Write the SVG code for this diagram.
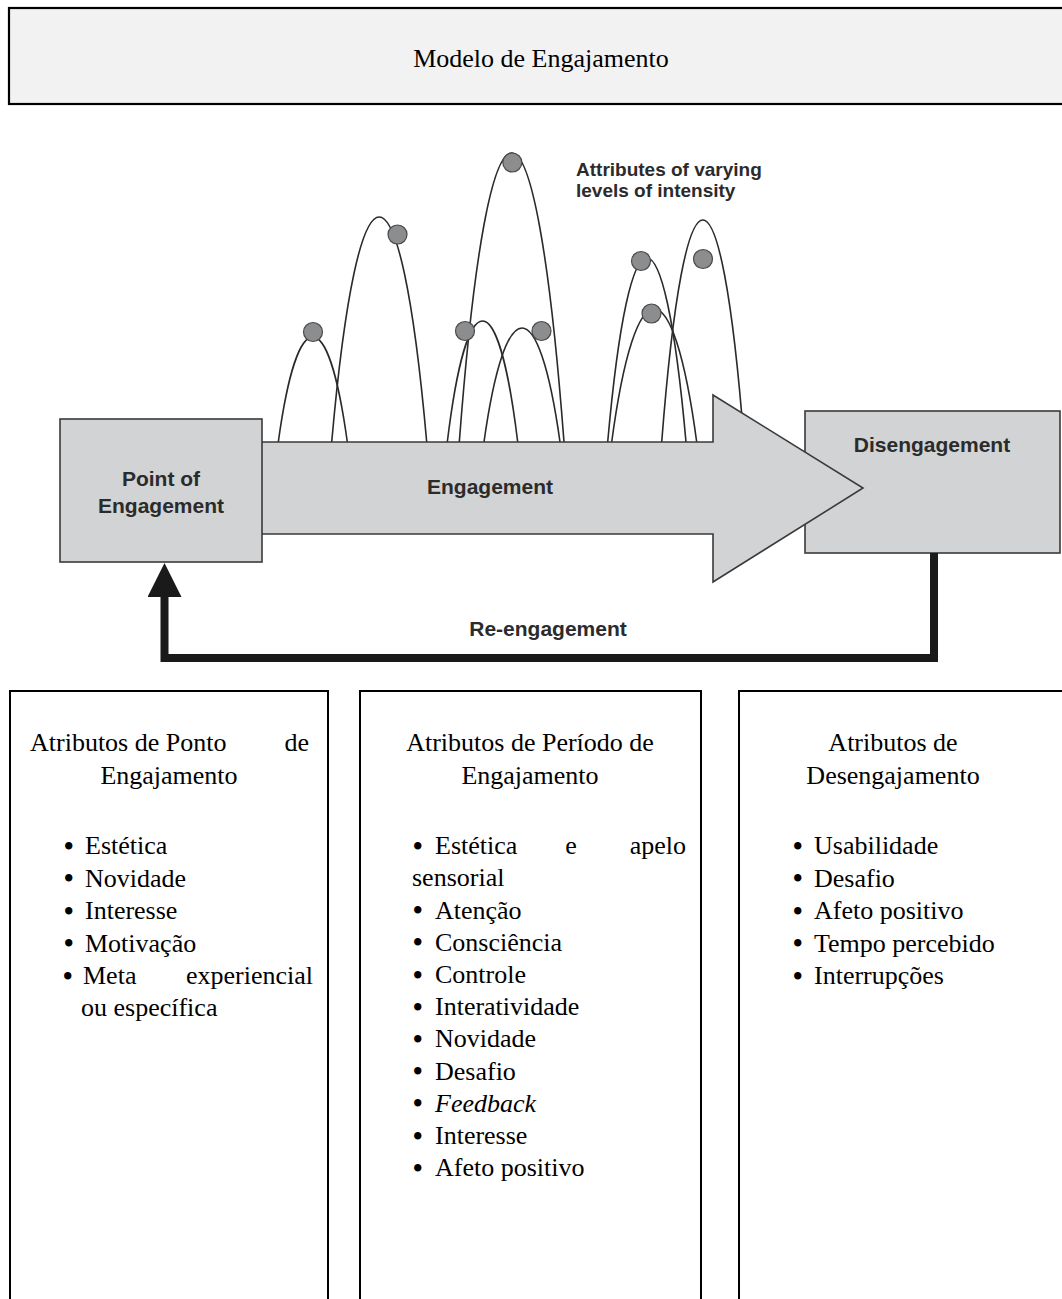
<svg xmlns="http://www.w3.org/2000/svg" width="1062" height="1299" viewBox="0 0 1062 1299">
<defs>
<style>
.serif{font-family:"Liberation Serif","Times New Roman",serif;font-size:26px;fill:#000}
.b{font-size:27px;font-weight:bold}
.sans{font-family:"Liberation Sans",Arial,sans-serif;font-weight:bold;fill:#2b2b2b}
.box{fill:#fff;stroke:#000;stroke-width:2}
.node{fill:#d1d3d4;stroke:#3a3a3a;stroke-width:1.6}
.arc{fill:none;stroke:#2a2a2a;stroke-width:1.6}
.dot{fill:#8c8d8f;stroke:#4a4a4a;stroke-width:1.2}
.conn{fill:none;stroke:#1a1a1a;stroke-width:8;stroke-linejoin:miter}
</style>
<marker id="head" viewBox="0 0 34 34" refX="0" refY="17" markerWidth="34" markerHeight="34" markerUnits="userSpaceOnUse" orient="auto">
<path d="M0,0 L34,17 L0,34 z" fill="#1a1a1a"/>
</marker>
</defs>
<rect width="1062" height="1299" fill="#fff"/>

<g id="title">
<rect x="9" y="8" width="1070" height="96" fill="#f2f2f2" stroke="#000" stroke-width="2.2"/>
<text class="serif" x="541" y="67" text-anchor="middle">Modelo de Engajamento</text>
</g>

<g id="intensity-arcs">
<path class="arc" d="M278.3,442 C297.6,302 328,302 347.3,442"/>
<path class="arc" d="M331.7,442 C358.3,142 400.1,142 426.7,442"/>
<path class="arc" d="M459.3,442 C488.6,56.7 534.7,56.7 564,442"/>
<path class="arc" d="M447.3,442 C467,280.7 498,280.7 517.7,442"/>
<path class="arc" d="M484,442 C505.3,290 538.7,290 560,442"/>
<path class="arc" d="M607.7,442 C629.6,196.7 664.1,196.7 686,442"/>
<path class="arc" d="M611.7,442 C635.5,264.7 672.9,264.7 696.7,442"/>
<path class="arc" d="M661.7,442 C684.7,146 721,146 744,442"/>
<circle class="dot" cx="313" cy="332" r="9.5"/>
<circle class="dot" cx="397.5" cy="234.5" r="9.5"/>
<circle class="dot" cx="512.3" cy="162.5" r="9.5"/>
<circle class="dot" cx="465" cy="331" r="9.5"/>
<circle class="dot" cx="541.5" cy="331" r="9.5"/>
<circle class="dot" cx="641" cy="261" r="9.5"/>
<circle class="dot" cx="651.5" cy="313.5" r="9.5"/>
<circle class="dot" cx="703" cy="259" r="9.5"/>
</g>

<g id="attributes-label">
<text class="sans" font-size="19" x="576" y="176">Attributes of varying</text>
<text class="sans" font-size="19" x="576" y="197">levels of intensity</text>
</g>

<g id="disengagement">
<rect class="node" x="805" y="411" width="255" height="142"/>
<text class="sans" font-size="21" x="932" y="452" text-anchor="middle">Disengagement</text>
</g>

<g id="engagement">
<path class="node" d="M250,442 L713,442 L713,395 L863,488 L713,582 L713,534 L250,534 Z"/>
<text class="sans" font-size="21" x="490" y="494" text-anchor="middle">Engagement</text>
</g>

<g id="point-of-engagement">
<rect class="node" x="60" y="419" width="202" height="143"/>
<text class="sans" font-size="21" x="161" y="486" text-anchor="middle">Point of</text>
<text class="sans" font-size="21" x="161" y="513" text-anchor="middle">Engagement</text>
</g>

<g id="connectors">
<path class="conn" d="M934,553 V658 H164.5 V597" marker-end="url(#head)"/>
<text class="sans" font-size="21" x="548" y="636" text-anchor="middle">Re-engagement</text>
</g>

<g id="box-ponto">
<rect class="box" x="10" y="691" width="318" height="700"/>
<text class="serif" x="30" y="751">Atributos de Ponto</text>
<text class="serif" x="309" y="751" text-anchor="end">de</text>
<text class="serif" x="169" y="784" text-anchor="middle">Engajamento</text>
<text class="serif"><tspan class="b" x="64" y="854.5">•</tspan><tspan x="85" y="854">Estética</tspan></text>
<text class="serif"><tspan class="b" x="64" y="887">•</tspan><tspan x="85" y="886.5">Novidade</tspan></text>
<text class="serif"><tspan class="b" x="64" y="919.5">•</tspan><tspan x="85" y="919">Interesse</tspan></text>
<text class="serif"><tspan class="b" x="64" y="952">•</tspan><tspan x="85" y="951.5">Motivação</tspan></text>
<text class="serif"><tspan class="b" x="63" y="984.5">•</tspan><tspan x="83" y="984">Meta</tspan></text>
<text class="serif" x="313" y="984" text-anchor="end">experiencial</text>
<text class="serif" x="81" y="1016">ou específica</text>
</g>

<g id="box-periodo">
<rect class="box" x="360" y="691" width="341" height="700"/>
<text class="serif" x="530" y="751" text-anchor="middle">Atributos de Período de</text>
<text class="serif" x="530" y="784" text-anchor="middle">Engajamento</text>
<text class="serif"><tspan class="b" x="413" y="854.5">•</tspan><tspan x="435" y="854">Estética</tspan></text>
<text class="serif" x="571" y="854" text-anchor="middle">e</text>
<text class="serif" x="686" y="854" text-anchor="end">apelo</text>
<text class="serif" x="412" y="886">sensorial</text>
<text class="serif"><tspan class="b" x="413" y="919">•</tspan><tspan x="435" y="918.5">Atenção</tspan></text>
<text class="serif"><tspan class="b" x="413" y="951.2">•</tspan><tspan x="435" y="950.7">Consciência</tspan></text>
<text class="serif"><tspan class="b" x="413" y="983.5">•</tspan><tspan x="435" y="983">Controle</tspan></text>
<text class="serif"><tspan class="b" x="413" y="1015.7">•</tspan><tspan x="435" y="1015.2">Interatividade</tspan></text>
<text class="serif"><tspan class="b" x="413" y="1047.9">•</tspan><tspan x="435" y="1047.4">Novidade</tspan></text>
<text class="serif"><tspan class="b" x="413" y="1080.1">•</tspan><tspan x="435" y="1079.6">Desafio</tspan></text>
<text class="serif"><tspan class="b" x="413" y="1112.3">•</tspan><tspan x="435" y="1111.8" font-style="italic">Feedback</tspan></text>
<text class="serif"><tspan class="b" x="413" y="1144.5">•</tspan><tspan x="435" y="1144">Interesse</tspan></text>
<text class="serif"><tspan class="b" x="413" y="1176.7">•</tspan><tspan x="435" y="1176.2">Afeto positivo</tspan></text>
</g>

<g id="box-desengajamento">
<rect class="box" x="739" y="691" width="400" height="700"/>
<text class="serif" x="893" y="751" text-anchor="middle">Atributos de</text>
<text class="serif" x="893" y="784" text-anchor="middle">Desengajamento</text>
<text class="serif"><tspan class="b" x="793" y="854.5">•</tspan><tspan x="814" y="854">Usabilidade</tspan></text>
<text class="serif"><tspan class="b" x="793" y="887">•</tspan><tspan x="814" y="886.5">Desafio</tspan></text>
<text class="serif"><tspan class="b" x="793" y="919.5">•</tspan><tspan x="814" y="919">Afeto positivo</tspan></text>
<text class="serif"><tspan class="b" x="793" y="952">•</tspan><tspan x="814" y="951.5">Tempo percebido</tspan></text>
<text class="serif"><tspan class="b" x="793" y="984.5">•</tspan><tspan x="814" y="984">Interrupções</tspan></text>
</g>
</svg>
